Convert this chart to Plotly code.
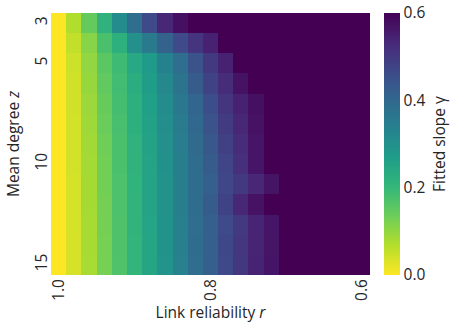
import plotly.graph_objects as go

# Link reliability r (columns) and mean degree z (rows)
reliability = [1.00, 0.98, 0.96, 0.94, 0.92, 0.90, 0.88, 0.86, 0.84, 0.82, 0.80,
               0.78, 0.76, 0.74, 0.72, 0.70, 0.68, 0.66, 0.64, 0.62, 0.60]
mean_degree = [3, 4, 5, 6, 7, 8, 9, 10, 11, 12, 13, 14, 15]

# Fitted slope gamma, one list per mean degree (colour saturates at 0.6)
gamma_z3 = [0.00, 0.07, 0.145, 0.215, 0.31, 0.385, 0.465, 0.535, 0.575, 0.64, 0.68, 0.70, 0.72, 0.74, 0.75, 0.77, 0.78, 0.79, 0.80, 0.81, 0.82]
gamma_z4 = [0.00, 0.055, 0.11, 0.175, 0.22, 0.30, 0.355, 0.41, 0.465, 0.51, 0.545, 0.63, 0.66, 0.69, 0.71, 0.73, 0.74, 0.75, 0.76, 0.77, 0.78]
gamma_z5 = [0.00, 0.045, 0.10, 0.155, 0.19, 0.24, 0.275, 0.335, 0.385, 0.445, 0.50, 0.545, 0.62, 0.65, 0.68, 0.70, 0.72, 0.73, 0.74, 0.75, 0.76]
gamma_z6 = [0.00, 0.042, 0.095, 0.148, 0.185, 0.228, 0.27, 0.32, 0.37, 0.425, 0.48, 0.525, 0.57, 0.62, 0.65, 0.67, 0.69, 0.71, 0.72, 0.73, 0.74]
gamma_z7 = [0.00, 0.042, 0.09, 0.142, 0.182, 0.222, 0.262, 0.31, 0.36, 0.405, 0.455, 0.51, 0.545, 0.575, 0.62, 0.64, 0.66, 0.68, 0.70, 0.71, 0.72]
gamma_z8 = [0.00, 0.04, 0.088, 0.138, 0.178, 0.22, 0.258, 0.305, 0.352, 0.398, 0.445, 0.495, 0.535, 0.57, 0.615, 0.64, 0.66, 0.67, 0.69, 0.70, 0.71]
gamma_z9 = [0.00, 0.04, 0.085, 0.133, 0.175, 0.215, 0.255, 0.30, 0.345, 0.392, 0.435, 0.485, 0.525, 0.565, 0.61, 0.63, 0.65, 0.67, 0.68, 0.69, 0.70]
gamma_z10 = [0.00, 0.04, 0.083, 0.13, 0.175, 0.213, 0.252, 0.297, 0.342, 0.39, 0.425, 0.475, 0.52, 0.565, 0.61, 0.63, 0.65, 0.66, 0.67, 0.68, 0.69]
gamma_z11 = [0.00, 0.038, 0.082, 0.13, 0.172, 0.212, 0.25, 0.295, 0.34, 0.388, 0.42, 0.47, 0.50, 0.535, 0.568, 0.61, 0.63, 0.65, 0.66, 0.67, 0.68]
gamma_z12 = [0.00, 0.038, 0.082, 0.128, 0.172, 0.21, 0.25, 0.295, 0.34, 0.39, 0.425, 0.48, 0.535, 0.57, 0.61, 0.63, 0.64, 0.65, 0.66, 0.67, 0.68]
gamma_z13 = [0.00, 0.038, 0.08, 0.128, 0.17, 0.21, 0.248, 0.292, 0.338, 0.385, 0.418, 0.465, 0.50, 0.54, 0.565, 0.61, 0.63, 0.64, 0.65, 0.66, 0.67]
gamma_z14 = [0.00, 0.037, 0.08, 0.127, 0.17, 0.209, 0.247, 0.292, 0.338, 0.386, 0.42, 0.468, 0.505, 0.54, 0.566, 0.61, 0.63, 0.64, 0.65, 0.66, 0.67]
gamma_z15 = [0.00, 0.037, 0.079, 0.126, 0.169, 0.208, 0.247, 0.291, 0.337, 0.385, 0.418, 0.466, 0.503, 0.542, 0.567, 0.61, 0.63, 0.64, 0.65, 0.66, 0.67]

gamma = [gamma_z3, gamma_z4, gamma_z5, gamma_z6, gamma_z7, gamma_z8, gamma_z9,
         gamma_z10, gamma_z11, gamma_z12, gamma_z13, gamma_z14, gamma_z15]

x_ticks = [1.0, 0.8, 0.6]
x_ticktext = ["1.0", "0.8", "0.6"]
y_ticks = [3, 5, 10, 15]
cbar_ticks = [0.0, 0.2, 0.4, 0.6]

FONT = "Open Sans"
TXT = "#262626"
FS = 15.5

fig = go.Figure(
    go.Heatmap(
        x=reliability,
        y=mean_degree,
        z=gamma,
        zmin=0,
        zmax=0.6,
        colorscale="Viridis",
        reversescale=True,
        colorbar=dict(
            thickness=16,
            len=1,
            lenmode="fraction",
            x=1.045,
            xanchor="left",
            xpad=0,
            y=0.5,
            yanchor="middle",
            ypad=0,
            outlinewidth=0,
            ticks="",
            tickvals=cbar_ticks,
            tickformat=".1f",
            tickfont=dict(family=FONT, size=FS, color=TXT),
            title=dict(text="Fitted slope γ", side="right",
                       font=dict(family=FONT, size=FS, color=TXT)),
        ),
    )
)

fig.update_layout(
    width=455,
    height=326,
    margin=dict(l=51, r=85, t=13, b=51, autoexpand=False),
    paper_bgcolor="white",
    plot_bgcolor="white",
    font=dict(family=FONT, size=FS, color=TXT),
    xaxis=dict(
        range=[1.01, 0.59],
        tickvals=x_ticks,
        ticktext=x_ticktext,
        tickangle=-90,
        ticks="",
        showgrid=False,
        zeroline=False,
        showline=False,
        automargin=True,
        title=dict(text="Link reliability <i>r</i>", standoff=5,
                   font=dict(family=FONT, size=FS, color=TXT)),
        tickfont=dict(family=FONT, size=FS, color=TXT),
    ),
    yaxis=dict(
        range=[15.5, 2.5],
        tickvals=y_ticks,
        tickangle=-90,
        ticks="",
        showgrid=False,
        zeroline=False,
        showline=False,
        title=dict(text="Mean degree <i>z</i>", standoff=6,
                   font=dict(family=FONT, size=FS, color=TXT)),
        tickfont=dict(family=FONT, size=FS, color=TXT),
    ),
)

fig.write_html("out.html")
